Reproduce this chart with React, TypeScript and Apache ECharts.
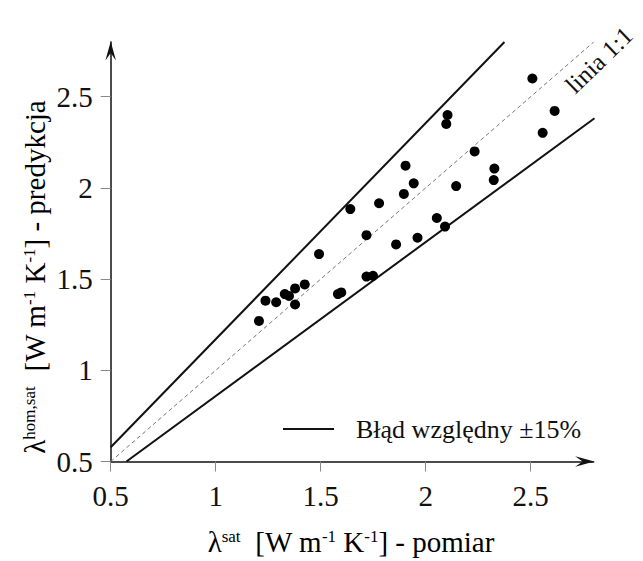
import React, { useEffect, useRef } from "react";
import * as echarts from "echarts";

// measured thermal conductivity (x) vs predicted (y)
const measured = [1.206, 1.237, 1.288, 1.329, 1.349, 1.378, 1.378, 1.424, 1.492, 1.582, 1.598, 1.641, 1.718, 1.718, 1.749, 1.778, 1.859, 1.896, 1.904, 1.943, 1.961, 2.053, 2.092, 2.098, 2.104, 2.145, 2.233, 2.324, 2.327, 2.508, 2.557, 2.614];
const predicted = [1.271, 1.382, 1.373, 1.418, 1.408, 1.449, 1.361, 1.471, 1.637, 1.418, 1.427, 1.884, 1.741, 1.514, 1.518, 1.916, 1.69, 1.967, 2.122, 2.025, 1.727, 1.835, 1.788, 2.351, 2.4, 2.01, 2.2, 2.043, 2.106, 2.6, 2.302, 2.422];

// reference lines (endpoints)
const upperLine = [[0.5, 0.578], [2.375, 2.8]];
const lowerLine = [[0.575, 0.5], [2.804, 2.382]];
const identityLine = [[0.5, 0.5], [2.8, 2.8]];

const xTicks = [0.5, 1, 1.5, 2, 2.5];
const yTicks = [0.5, 1, 1.5, 2, 2.5];

const legendName = "Błąd względny ±15%";
const FONT = "Liberation Serif";
const ARROW = "path://M5 0 L10 18 L5 11 L0 18 Z";

export default function App() {
  const ref = useRef<HTMLDivElement>(null);
  useEffect(() => {
    if (!ref.current) return;
    const chart = echarts.init(ref.current, undefined, { renderer: "svg" });
    const rich = {
      m: { fontSize: 29, fontFamily: FONT, color: "#111", lineHeight: 29 },
      s: { fontSize: 17, fontFamily: FONT, color: "#111", lineHeight: 17, verticalAlign: "top" },
    };
    const axisCommon = (ticks: number[], isX: boolean) => ({
      type: "value",
      min: 0.5,
      max: 2.8,
      interval: 0.5,
      axisLine: {
        show: true,
        lineStyle: { color: "#111", width: 1.5 },
        symbol: ["none", ARROW],
        symbolSize: [17, 19],
        symbolOffset: [0, -9],
      },
      axisTick: { show: true, length: 10, lineStyle: { color: "#888", width: 1 }, customValues: ticks },
      axisLabel: {
        customValues: ticks,
        fontSize: 29,
        fontFamily: FONT,
        fontWeight: "normal",
        color: "#111",
        margin: isX ? 20 : 18,
      },
      splitLine: { show: false },
    });
    chart.setOption({
      animation: false,
      backgroundColor: "#fff",
      textStyle: { fontFamily: FONT },
      grid: { left: 110.7, top: 42, width: 483, height: 419.5, containLabel: false },
      xAxis: axisCommon(xTicks, true),
      yAxis: axisCommon(yTicks, false),
      legend: {
        data: [{ name: legendName, icon: "rect", itemStyle: { color: "#111" } }],
        left: 283,
        top: 416,
        padding: 0,
        itemWidth: 51,
        itemHeight: 2,
        selectedMode: false,
        textStyle: { fontSize: 26, fontFamily: FONT, color: "#111", padding: [0, 0, 0, 17] },
      },
      graphic: [
        {
          type: "text",
          x: 351,
          y: 542,
          style: {
            text: "{m|λ}{s|sat}{m|  [W m}{s|-1}{m| K}{s|-1}{m|] - pomiar}",
            rich,
            fontFamily: FONT,
            align: "center",
            verticalAlign: "middle",
          },
        },
        {
          type: "text",
          x: 35,
          y: 277,
          rotation: Math.PI / 2,
          style: {
            text: "{m|λ}{s|hom,sat}{m|  [W m}{s|-1}{m| K}{s|-1}{m|] - predykcja}",
            rich,
            fontFamily: FONT,
            align: "center",
            verticalAlign: "middle",
          },
        },
        {
          type: "text",
          x: 599,
          y: 60,
          rotation: (44 * Math.PI) / 180,
          style: {
            text: "linia 1:1",
            fontSize: 25,
            fontFamily: FONT,
            fill: "#111",
            align: "center",
            verticalAlign: "middle",
          },
        },
      ],
      series: [
        {
          name: "linia 1:1",
          type: "line",
          data: identityLine,
          symbol: "none",
          clip: false,
          lineStyle: { color: "#777", width: 1, type: [4, 3] },
          z: 1,
        },
        {
          name: legendName,
          type: "line",
          data: upperLine,
          symbol: "none",
          clip: false,
          itemStyle: { color: "#111" },
          lineStyle: { color: "#111", width: 2 },
          z: 2,
        },
        {
          name: legendName,
          type: "line",
          data: lowerLine,
          symbol: "none",
          clip: false,
          itemStyle: { color: "#111" },
          lineStyle: { color: "#111", width: 2 },
          z: 2,
        },
        {
          name: "pomiary",
          type: "scatter",
          data: measured.map((x, i) => [x, predicted[i]]),
          symbolSize: 10,
          itemStyle: { color: "#000", opacity: 1 },
          z: 3,
        },
      ],
    });
    return () => chart.dispose();
  }, []);
  return <div ref={ref} style={{ position: "absolute", left: 0, top: 0, width: 643, height: 561 }} />;
}
